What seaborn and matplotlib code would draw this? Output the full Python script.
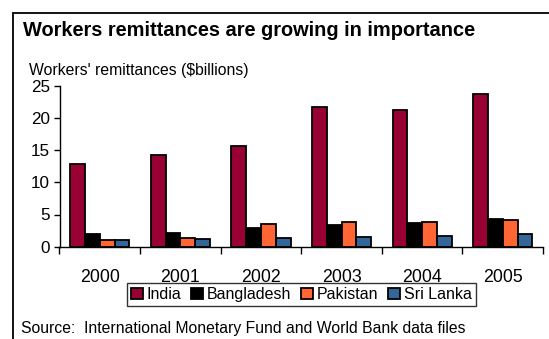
import matplotlib
matplotlib.use("Agg")
import matplotlib.pyplot as plt
from matplotlib.lines import Line2D
from matplotlib.ticker import FixedLocator, NullFormatter
import seaborn as sns
import pandas as pd

years = ["2000", "2001", "2002", "2003", "2004", "2005"]
countries = ["India", "Bangladesh", "Pakistan", "Sri Lanka"]
india = [12.85, 14.2, 15.7, 21.65, 21.3, 23.7]
bangladesh = [2.0, 2.1, 2.95, 3.3, 3.65, 4.25]
pakistan = [1.0, 1.35, 3.5, 3.9, 3.9, 4.2]
sri_lanka = [1.1, 1.15, 1.3, 1.55, 1.65, 2.0]
colors = ["#990033", "#000000", "#FF6633", "#336699"]

series = [india, bangladesh, pakistan, sri_lanka]
df = pd.DataFrame(
    [(y, c, v) for c, vals in zip(countries, series) for y, v in zip(years, vals)],
    columns=["year", "country", "value"],
)

sns.set_theme(style="white")
plt.rcParams["font.family"] = ["Liberation Sans", "DejaVu Sans"]

W, H = 549, 339
fig = plt.figure(figsize=(W / 100, H / 100), dpi=100)
x0, x1, y_top, y_bot = 59.5, 543.0, 85.7, 246.7
ax = fig.add_axes([x0 / W, 1 - y_bot / H, (x1 - x0) / W, (y_bot - y_top) / H])

sns.barplot(
    data=df, x="year", y="value", hue="country", order=years, hue_order=countries,
    palette=colors, edgecolor="black", linewidth=1.3, width=0.735, ax=ax,
    saturation=1, legend=True,
)

ax.set_xlim(-0.5, len(years) - 0.5)
ax.set_ylim(0, 25)
ax.set_yticks([0, 5, 10, 15, 20, 25])
ax.set_xlabel("")
ax.set_ylabel("")
for side in ("top", "right"):
    ax.spines[side].set_visible(False)
for side in ("left", "bottom"):
    ax.spines[side].set_color("black")
    ax.spines[side].set_linewidth(1.0)

ax.tick_params(axis="y", which="major", direction="out", length=4, width=1,
               color="black", labelsize=12.3, pad=3, left=True)
ax.tick_params(axis="x", which="major", length=0, labelsize=12.8, pad=16)
ax.xaxis.set_minor_locator(FixedLocator([i - 0.5 for i in range(len(years) + 1)]))
ax.xaxis.set_minor_formatter(NullFormatter())
ax.tick_params(axis="x", which="minor", direction="out", length=5, width=1,
               color="black", bottom=True)
for lbl in ax.get_yticklabels() + ax.get_xticklabels():
    lbl.set_color("black")

handles, labels = ax.get_legend_handles_labels()
ax.get_legend().remove()
leg = fig.legend(
    handles, labels, loc="center", bbox_to_anchor=((x0 + x1) / 2 / W, 1 - 294.5 / H),
    ncol=4, frameon=True, fancybox=False, edgecolor="black", fontsize=11.5,
    handlelength=0.75, handleheight=0.75, handletextpad=0.25, columnspacing=0.6,
    borderpad=0.25, borderaxespad=0,
)
leg.get_frame().set_linewidth(1.0)
for t in leg.get_texts():
    t.set_color("black")

fig.text(23 / W, 1 - 36.5 / H, "Workers remittances are growing in importance",
         fontsize=14.4, fontweight="bold", color="black", ha="left", va="baseline")
fig.text(29 / W, 1 - 75 / H, "Workers' remittances ($billions)",
         fontsize=11.3, color="black", ha="left", va="baseline")
fig.text(21 / W, 1 - 333 / H,
         "Source:  International Monetary Fund and World Bank data files",
         fontsize=11.3, color="black", ha="left", va="baseline")

# Panel border: top and left edges
fig.add_artist(Line2D([12.7 / W, 1.01], [1 - 13 / H, 1 - 13 / H], color="black",
                      lw=1.3, transform=fig.transFigure))
fig.add_artist(Line2D([12.7 / W, 12.7 / W], [-0.01, 1 - 13 / H], color="black",
                      lw=1.3, transform=fig.transFigure))

fig.savefig("out.png", dpi=100)
